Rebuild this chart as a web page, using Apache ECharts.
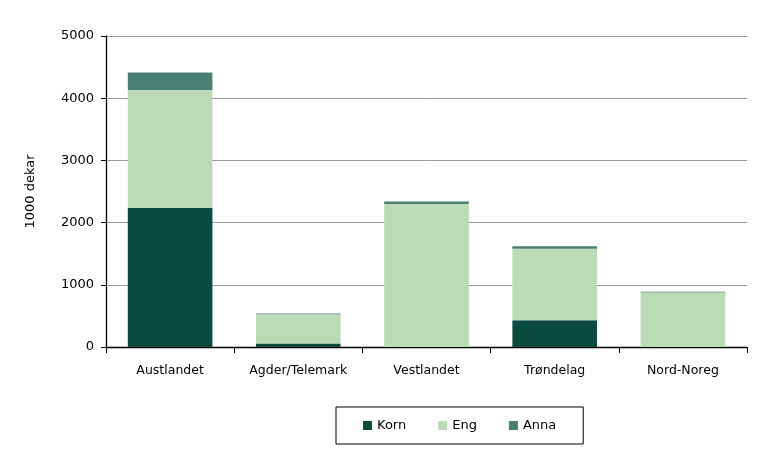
<!DOCTYPE html>
<html><head><meta charset="utf-8">
<script src="https://cdn.jsdelivr.net/npm/echarts@6/dist/echarts.min.js"></script>
<style>html,body{margin:0;padding:0;background:#fff}#c{width:768px;height:456px}</style>
</head><body><div id="c"></div>
<script>
const categories = ['Austlandet', 'Agder/Telemark', 'Vestlandet', 'Trøndelag', 'Nord-Noreg'];
const korn = [2235, 55, 0, 430, 0];
const eng = [1895, 470, 2300, 1148, 878];
const anna = [285, 15, 40, 40, 12];
const yTicks = [0, 1000, 2000, 3000, 4000, 5000];

const font = 'DejaVu Sans';
const chart = echarts.init(document.getElementById('c'));
chart.setOption({
  animation: false,
  textStyle: { fontFamily: font },
  grid: { left: 106, right: 21, top: 36, bottom: 109 },
  legend: {
    left: 336, top: 407,
    padding: [12, 27, 12, 27],
    itemGap: 32, itemWidth: 9, itemHeight: 9,
    borderColor: '#000', borderWidth: 1,
    icon: 'rect',
    textStyle: { fontFamily: font, fontSize: 13, color: '#000' },
    data: ['Korn', 'Eng', 'Anna']
  },
  xAxis: {
    type: 'category', data: categories,
    axisLine: { lineStyle: { color: '#000', width: 1.3 } },
    axisTick: { show: true, length: 6, lineStyle: { color: '#000' } },
    axisLabel: { color: '#000', fontSize: 12.5, margin: 17, fontFamily: font, interval: 0 }
  },
  yAxis: {
    type: 'value', min: yTicks[0], max: yTicks[yTicks.length - 1], interval: 1000,
    name: '1000 dekar', nameLocation: 'middle', nameGap: 69, nameRotate: 90,
    nameTextStyle: { color: '#000', fontSize: 13, fontFamily: font },
    axisLine: { show: true, lineStyle: { color: '#000', width: 1.3 } },
    axisTick: { show: true, length: 5, lineStyle: { color: '#000' } },
    axisLabel: { color: '#000', fontSize: 13, margin: 12, fontFamily: font, formatter: v => String(v) },
    splitLine: { lineStyle: { color: '#999', width: 1 } }
  },
  series: [
    { name: 'Korn', type: 'bar', stack: 's', data: korn, barCategoryGap: '34%', itemStyle: { color: '#0b4a3e' } },
    { name: 'Eng', type: 'bar', stack: 's', data: eng, itemStyle: { color: '#badbb6' } },
    { name: 'Anna', type: 'bar', stack: 's', data: anna, itemStyle: { color: '#4a8073' } }
  ]
});
</script>
</body></html>
